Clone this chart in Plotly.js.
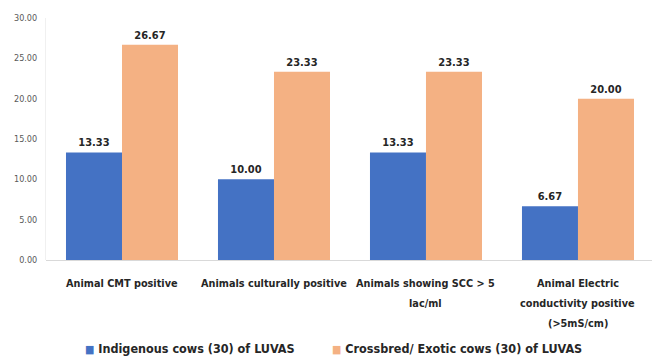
<!DOCTYPE html>
<html><head><meta charset="utf-8">
<script src="https://cdn.plot.ly/plotly-3.0.1.min.js"></script>
<style>html,body{margin:0;padding:0;background:#fff;}#chart{width:652px;height:360px;}</style>
</head><body><div id="chart"></div>
<script>
var categories = ["Animal CMT positive", "Animals culturally positive", "Animals showing SCC &gt; 5<br>lac/ml", "Animal Electric<br>conductivity positive<br>(&gt;5mS/cm)"];
var seriesNames = ["Indigenous cows (30) of LUVAS", "Crossbred/ Exotic cows (30) of LUVAS"];
var seriesColors = ["#4472C4", "#F4B183"];
var indigenous = [13.33, 10.00, 13.33, 6.67];
var crossbred = [26.67, 23.33, 23.33, 20.00];
var yTicks = [0, 5, 10, 15, 20, 25, 30];

var font = "DejaVu Sans Condensed, Liberation Sans Narrow, Arial Narrow, sans-serif";
var xIdx = categories.map(function(_, i){ return i; });
function mk(name, vals, color){
  return {type:"bar", name:name, x:xIdx, y:vals, marker:{color:color},
    text: vals.map(function(v){ return v.toFixed(2); }), textposition:"outside",
    textfont:{family:font, size:11, color:"#262626", weight:"bold"}, cliponaxis:false, hoverinfo:"none"};
}
var data = [mk(seriesNames[0], indigenous, seriesColors[0]), mk(seriesNames[1], crossbred, seriesColors[1])];

var annotations = [];
categories.forEach(function(c, i){
  c.split("<br>").forEach(function(line, k){
    annotations.push({xref:"x", yref:"paper", x:i, y:0, yanchor:"middle", xanchor:"center",
      yshift:-(23 + 20*k), text:line, showarrow:false,
      font:{family:font, size:10.8, color:"#262626", weight:"bold"}});
  });
});
var legendX = [83, 330];
seriesNames.forEach(function(n, i){
  annotations.push({xref:"paper", yref:"paper", x:(legendX[i]-46)/606, y:(260-348)/242,
    xanchor:"left", yanchor:"middle", showarrow:false,
    text:"<span style='color:" + seriesColors[i] + ";font-size:11px'>■</span> " + n,
    font:{family:font, size:12.5, color:"#262626", weight:"bold"}});
});

var layout = {
  width:652, height:360, margin:{l:46, r:0, t:18, b:100},
  paper_bgcolor:"#fff", plot_bgcolor:"#fff",
  barmode:"group", bargap:0.263, bargroupgap:0,
  font:{family:font, color:"#404040"},
  xaxis:{range:[-0.5, 3.487], tickvals:xIdx, showticklabels:false, showgrid:false, zeroline:false,
    showline:false, ticks:"", automargin:false},
  yaxis:{range:[0, 30], tickvals:yTicks, ticktext:yTicks.map(function(v){return v.toFixed(2);}), showgrid:false,
    zeroline:true, zerolinecolor:"#d9d9d9", zerolinewidth:1, showline:true, linecolor:"#f0f0f0", ticks:"",
    tickfont:{family:font, size:9, color:"#595959"}, automargin:false, ticklabelstandoff:6},
  showlegend:false,
  annotations:annotations
};
Plotly.newPlot("chart", data, layout, {staticPlot:true});
</script></body></html>
